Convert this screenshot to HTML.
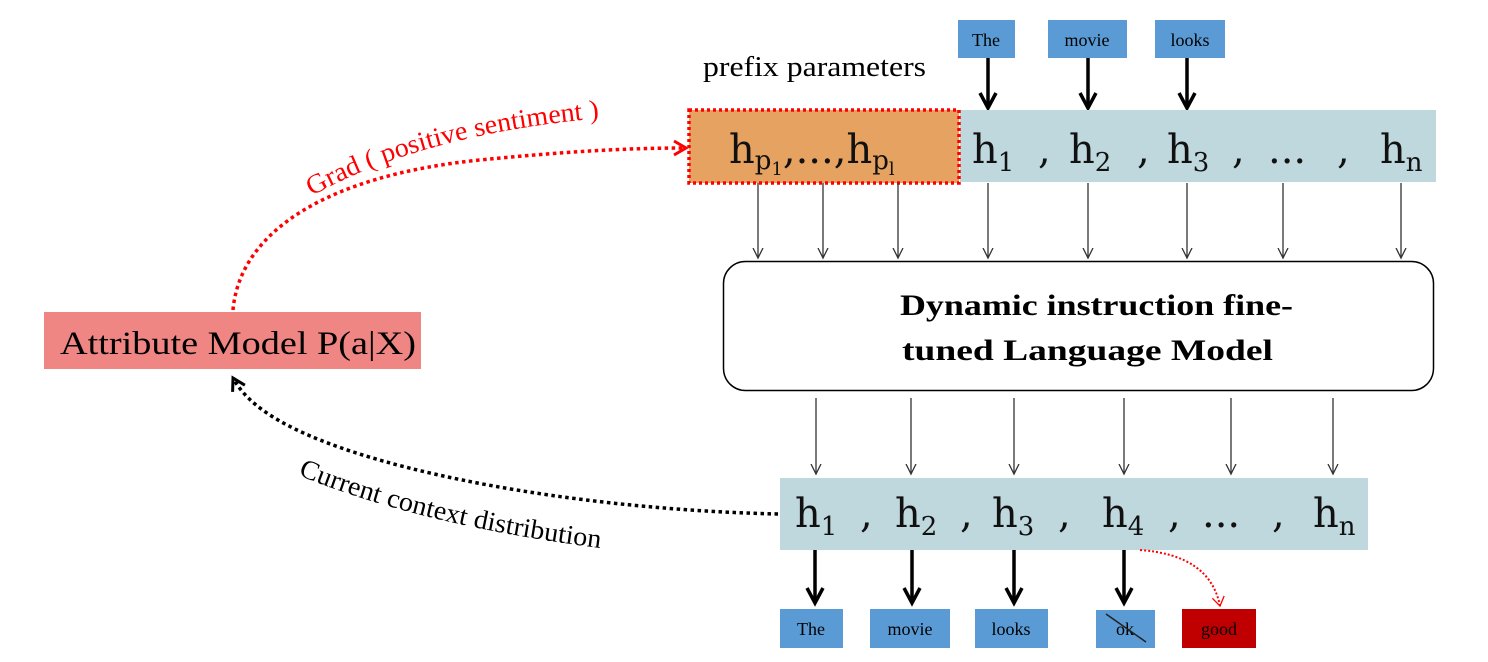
<!DOCTYPE html>
<html><head><style>
html,body{margin:0;padding:0;background:#fff;}
svg{display:block;}
text{font-family:"Liberation Serif",serif;}
.h{font-family:"DejaVu Serif","Liberation Serif",serif;font-size:40px;fill:#111;}
</style></head><body>
<svg width="1488" height="662" viewBox="0 0 1488 662" xmlns="http://www.w3.org/2000/svg">
<defs>
<marker id="ta" markerWidth="12" markerHeight="12" refX="10" refY="5" orient="auto" markerUnits="userSpaceOnUse" viewBox="0 0 12 10"><path d="M0,0 L10,5 L0,10" fill="none" stroke="#333" stroke-width="1.3"/></marker>
<marker id="kb" markerWidth="22" markerHeight="22" refX="18" refY="10" orient="auto" markerUnits="userSpaceOnUse" viewBox="0 0 22 20"><path d="M3,2 L18,10 L3,18" fill="none" stroke="#000" stroke-width="3.5"/></marker>
<marker id="ra" markerWidth="20" markerHeight="20" refX="16" refY="10" orient="auto" markerUnits="userSpaceOnUse" viewBox="0 0 20 20"><path d="M4,3 L16,10 L4,17" fill="none" stroke="#f00" stroke-width="3"/></marker>
<marker id="rs" markerWidth="14" markerHeight="14" refX="12" refY="7" orient="auto" markerUnits="userSpaceOnUse" viewBox="0 0 14 14"><path d="M3,1 L12,7 L3,13" fill="none" stroke="#f00" stroke-width="1.3"/></marker>
<marker id="ba" markerWidth="20" markerHeight="20" refX="16" refY="10" orient="auto" markerUnits="userSpaceOnUse" viewBox="0 0 20 20"><path d="M4,3 L16,10 L4,17" fill="none" stroke="#000" stroke-width="3"/></marker>
</defs>

<!-- top tokens -->
<rect x="958" y="20" width="57" height="38" fill="#5b9bd5"/>
<text x="986" y="46" text-anchor="middle" font-size="18">The</text>
<rect x="1048" y="20" width="79" height="38" fill="#5b9bd5"/>
<text x="1087" y="46" text-anchor="middle" font-size="18">movie</text>
<rect x="1155" y="20" width="70" height="38" fill="#5b9bd5"/>
<text x="1190" y="46" text-anchor="middle" font-size="18">looks</text>
<g stroke="#000" stroke-width="3.5">
<line x1="988" y1="58" x2="988" y2="108" marker-end="url(#kb)"/>
<line x1="1088" y1="58" x2="1088" y2="108" marker-end="url(#kb)"/>
<line x1="1187" y1="58" x2="1187" y2="108" marker-end="url(#kb)"/>
</g>

<text x="703" y="76" font-size="29" textLength="223" lengthAdjust="spacingAndGlyphs">prefix parameters</text>

<!-- top h row -->
<rect x="960" y="110" width="476" height="72" fill="#bed8de"/>
<rect x="689" y="110" width="270" height="73" fill="#e6a261" stroke="#f00" stroke-width="3.5" stroke-dasharray="3,3"/>
<text class="h" x="729" y="163">h<tspan font-size="26" dy="6">p</tspan><tspan font-size="18" dy="6">1</tspan><tspan dy="-12">,...,h</tspan><tspan font-size="26" dy="6">p</tspan><tspan font-size="18" dy="6">l</tspan></text>
<g class="h">
<text class="h" x="972" y="163">h<tspan font-size="26" dy="8">1</tspan></text>
<text class="h" x="1038" y="163">,</text>
<text class="h" x="1069" y="163">h<tspan font-size="26" dy="8">2</tspan></text>
<text class="h" x="1137" y="163">,</text>
<text class="h" x="1167" y="163">h<tspan font-size="26" dy="8">3</tspan></text>
<text class="h" x="1232" y="163">,</text>
<text class="h" x="1268" y="163">...</text>
<text class="h" x="1337" y="163">,</text>
<text class="h" x="1380" y="163">h<tspan font-size="26" dy="8">n</tspan></text>
</g>

<g stroke="#333" stroke-width="1.3">
<line x1="758" y1="183" x2="758" y2="258" marker-end="url(#ta)"/>
<line x1="823" y1="183" x2="823" y2="258" marker-end="url(#ta)"/>
<line x1="898" y1="183" x2="898" y2="258" marker-end="url(#ta)"/>
<line x1="988" y1="183" x2="988" y2="258" marker-end="url(#ta)"/>
<line x1="1088" y1="183" x2="1088" y2="258" marker-end="url(#ta)"/>
<line x1="1187" y1="183" x2="1187" y2="258" marker-end="url(#ta)"/>
<line x1="1283" y1="183" x2="1283" y2="258" marker-end="url(#ta)"/>
<line x1="1401" y1="183" x2="1401" y2="258" marker-end="url(#ta)"/>
</g>

<rect x="723.5" y="261.5" width="710" height="129" rx="22" fill="#fff" stroke="#000" stroke-width="1.5"/>
<text x="900" y="315" font-size="30" font-weight="bold" textLength="393" lengthAdjust="spacingAndGlyphs">Dynamic instruction fine-</text>
<text x="902" y="360" font-size="30" font-weight="bold" textLength="371" lengthAdjust="spacingAndGlyphs">tuned Language Model</text>

<g stroke="#333" stroke-width="1.3">
<line x1="816" y1="398" x2="816" y2="474" marker-end="url(#ta)"/>
<line x1="911" y1="398" x2="911" y2="474" marker-end="url(#ta)"/>
<line x1="1014" y1="398" x2="1014" y2="474" marker-end="url(#ta)"/>
<line x1="1124" y1="398" x2="1124" y2="474" marker-end="url(#ta)"/>
<line x1="1231" y1="398" x2="1231" y2="474" marker-end="url(#ta)"/>
<line x1="1333" y1="398" x2="1333" y2="474" marker-end="url(#ta)"/>
</g>

<!-- bottom h row -->
<rect x="780" y="478" width="588" height="72" fill="#bed8de"/>
<text class="h" x="795" y="527">h<tspan font-size="26" dy="8">1</tspan></text>
<text class="h" x="860" y="527">,</text>
<text class="h" x="895" y="527">h<tspan font-size="26" dy="8">2</tspan></text>
<text class="h" x="960" y="527">,</text>
<text class="h" x="992" y="527">h<tspan font-size="26" dy="8">3</tspan></text>
<text class="h" x="1058" y="527">,</text>
<text class="h" x="1102" y="527">h<tspan font-size="26" dy="8">4</tspan></text>
<text class="h" x="1168" y="527">,</text>
<text class="h" x="1202" y="527">...</text>
<text class="h" x="1272" y="527">,</text>
<text class="h" x="1313" y="527">h<tspan font-size="26" dy="8">n</tspan></text>

<g stroke="#000" stroke-width="3.5">
<line x1="815" y1="550" x2="815" y2="603" marker-end="url(#kb)"/>
<line x1="912" y1="550" x2="912" y2="603" marker-end="url(#kb)"/>
<line x1="1014" y1="550" x2="1014" y2="603" marker-end="url(#kb)"/>
<line x1="1124" y1="550" x2="1124" y2="603" marker-end="url(#kb)"/>
</g>
<path d="M1140,550 Q1210,555 1220,606" fill="none" stroke="#f00" stroke-width="2" stroke-dasharray="2,2" marker-end="url(#rs)"/>

<rect x="780" y="609" width="63" height="39" fill="#5b9bd5"/>
<text x="811" y="635" text-anchor="middle" font-size="18">The</text>
<rect x="870" y="609" width="80" height="39" fill="#5b9bd5"/>
<text x="910" y="635" text-anchor="middle" font-size="18">movie</text>
<rect x="975" y="609" width="73" height="39" fill="#5b9bd5"/>
<text x="1011" y="635" text-anchor="middle" font-size="18">looks</text>
<rect x="1096" y="610" width="59" height="38" fill="#5b9bd5"/>
<text x="1125" y="635" text-anchor="middle" font-size="18">ok</text>
<line x1="1106" y1="614" x2="1146" y2="642" stroke="#222" stroke-width="1.5"/>
<rect x="1182" y="609" width="74" height="39" fill="#c00000"/>
<text x="1219" y="635" text-anchor="middle" font-size="18">good</text>

<!-- attribute model -->
<rect x="44" y="312" width="377" height="57" fill="#ef8683"/>
<text x="60" y="354" font-size="33" textLength="356" lengthAdjust="spacingAndGlyphs">Attribute Model P(a|X)</text>

<!-- grad curve -->
<path d="M233,310 C240,230 330,175 480,160 C580,150 640,148 686,148" fill="none" stroke="#f00" stroke-width="3.5" stroke-dasharray="3.5,3.5" marker-end="url(#ra)"/>
<path id="gp" d="M312,196 Q420,135 600,118" fill="none"/>
<text font-size="27" fill="#f00"><textPath href="#gp" textLength="300" lengthAdjust="spacingAndGlyphs">Grad ( positive sentiment )</textPath></text>

<!-- current context curve -->
<path d="M778,514 C600,510 420,480 320,440 C270,420 245,400 233,378" fill="none" stroke="#000" stroke-width="3.5" stroke-dasharray="3.5,3.5" marker-end="url(#ba)"/>
<path id="cp" d="M298,475 Q420,525 600,548" fill="none"/>
<text font-size="27" fill="#000"><textPath href="#cp" textLength="312" lengthAdjust="spacingAndGlyphs">Current context distribution</textPath></text>
</svg>
</body></html>
